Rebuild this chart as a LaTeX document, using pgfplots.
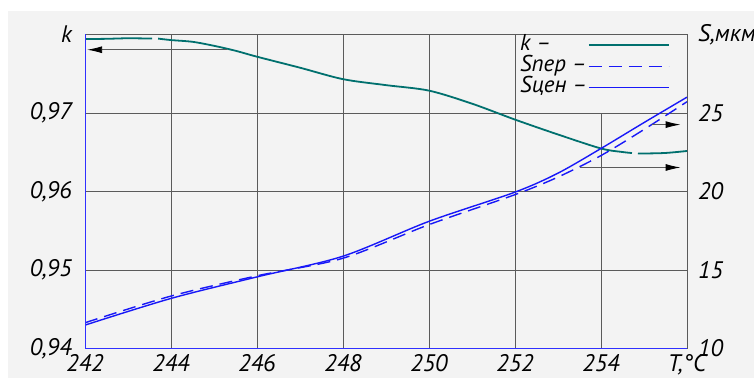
\documentclass[border=0pt]{standalone}
\usepackage{pgfplots}
\pgfplotsset{compat=1.18}
\usepackage{fontspec}
\setmainfont{PT Sans}
\usetikzlibrary{arrows.meta}
\definecolor{bg}{HTML}{F3F3F3}
\definecolor{kcol}{HTML}{00706E}
\definecolor{scol}{HTML}{1818F8}
\definecolor{gridc}{HTML}{5A5A5A}
\definecolor{axc}{HTML}{3030FF}
\newcommand{\lf}{\itshape\fontsize{24}{26}\selectfont}
\newcommand{\legf}{\itshape\fontsize{23}{24}\selectfont}
\begin{document}
\begin{tikzpicture}[x=1bp,y=1bp]
\useasboundingbox (0,0) rectangle (754,378);
\fill[white] (0,0) rectangle (754,378);
\fill[bg] (8,0) rectangle (754,367);
\begin{axis}[
  at={(85bp,29.5bp)}, anchor=south west, scale only axis,
  width=602bp, height=314bp,
  xmin=242, xmax=256, ymin=0.94, ymax=0.98,
  xtick={242,244,246,248,250,252,254,256},
  xticklabels={242,244,246,248,250,252,254,{T,°C}},
  ytick={0.94,0.95,0.96,0.97,0.98},
  yticklabels={{0,94},{0,95},{0,96},{0,97},{k}},
  grid=major, grid style={gridc, line width=0.9bp},
  major tick length=0pt,
  axis line style={gridc, line width=0.9bp},
  ticklabel style={font=\lf, inner sep=0pt},
  yticklabel style={xshift=-13bp},
  xticklabel style={yshift=-6bp},
  legend plot pos=right,
  legend image code/.code={\draw[#1] (0bp,0bp) -- (80bp,0bp);},
  legend style={at={(axis cs:252,0.98)}, anchor=north west, draw=none, fill=none,
    font=\legf, inner xsep=4bp, inner ysep=0bp, row sep=0bp,
    nodes={inner sep=1bp, text height=15bp, text depth=4bp}},
  legend cell align=left,
]
\fill[bg] (axis cs:252,0.97) rectangle (axis cs:256,0.98);
\draw[gridc, line width=0.9bp] (axis cs:252,0.97) rectangle (axis cs:256,0.98);
\addplot[kcol, line width=1.8bp, smooth] coordinates {
 (243.70,0.97948) (244,0.97929) (244.5,0.97907) (245,0.97856) (245.5,0.97793)
 (246,0.97717) (247,0.97577) (248,0.97431) (249,0.97355) (250,0.97285)
 (251,0.97119) (252,0.96916) (253,0.96726) (254,0.96548) (254.5,0.96503) (254.72,0.96490)};
\addlegendentry{k –}
\addlegendimage{scol, line width=1.4bp, dash pattern=on 13bp off 7bp}
\addlegendentry{Sпер –}
\addlegendimage{scol, line width=1.4bp}
\addlegendentry{Sцен –}
\addplot[kcol, line width=1.8bp, smooth, forget plot] coordinates {
 (242,0.97942) (242.5,0.97945) (243,0.97952) (243.56,0.97948)};
\addplot[kcol, line width=1.8bp, smooth, forget plot] coordinates {
 (254.86,0.96484) (255,0.96484) (255.5,0.96491) (256,0.96516)};
\draw[gridc, line width=0.9bp, -{Latex[black, length=15bp, width=7bp]}]
  (axis cs:245.3,0.97806) -- (axis cs:242.05,0.97806);
\end{axis}
\begin{axis}[
  at={(85bp,29.5bp)}, anchor=south west, scale only axis,
  width=602bp, height=314bp,
  xmin=242, xmax=256, ymin=10, ymax=30,
  axis x line=none, axis y line*=right,
  axis line style={draw=none},
  ytick={10,15,20,25,30},
  yticklabels={10,15,20,25,{S,мкм}},
  major tick length=0pt,
  yticklabel style={font=\lf, inner sep=0pt, anchor=west, xshift=11bp},
]
\addplot[scol, line width=1.4bp, smooth, dash pattern=on 13bp off 7bp] coordinates {
 (242,11.64) (244,13.34) (246,14.63) (248,15.75) (250,17.89) (252,19.80)
 (253,20.92) (254,22.29) (255,23.95) (256,25.72)};
\addplot[scol, line width=1.4bp, smooth] coordinates {
 (242,11.49) (244,13.19) (246,14.56) (248,15.88) (250,18.10) (252,19.96)
 (253,21.17) (254,22.74) (255,24.39) (256,26.01)};
\draw[gridc, line width=0.9bp, -{Latex[black, length=15bp, width=7bp]}]
  (axis cs:255.19,24.26) -- (axis cs:255.85,24.26);
\draw[gridc, line width=0.9bp, -{Latex[black, length=15bp, width=7bp]}]
  (axis cs:253.51,21.53) -- (axis cs:255.85,21.53);
\draw[axc, line width=2bp] (rel axis cs:0,1) -- (rel axis cs:0,0) -- (rel axis cs:1,0);
\end{axis}
\end{tikzpicture}
\end{document}
